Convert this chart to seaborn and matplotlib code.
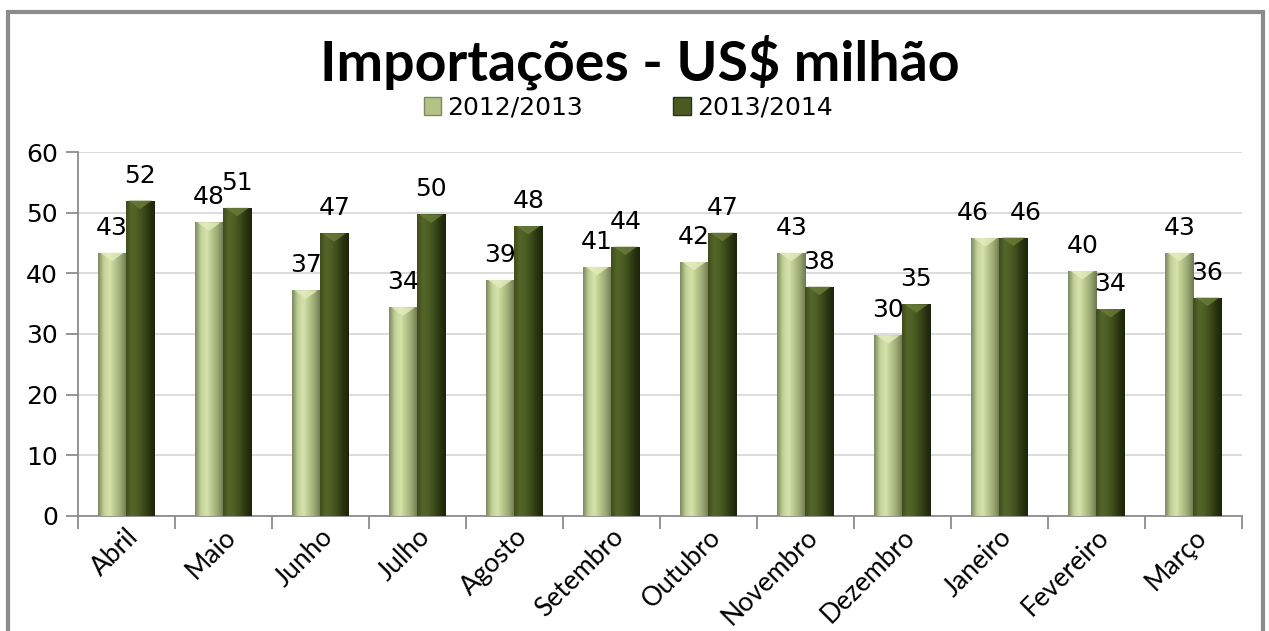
import numpy as np
import pandas as pd
import seaborn as sns
import matplotlib.pyplot as plt
from matplotlib.colors import LinearSegmentedColormap
from matplotlib.patches import Patch, Polygon, Rectangle

# --- data (US$ milhão) ---
months = ['Abril', 'Maio', 'Junho', 'Julho', 'Agosto', 'Setembro',
          'Outubro', 'Novembro', 'Dezembro', 'Janeiro', 'Fevereiro', 'Março']
series_names = ['2012/2013', '2013/2014']
imp_2012_2013 = [43.4, 48.4, 37.2, 34.4, 38.9, 41.1, 41.9, 43.4, 29.8, 45.8, 40.4, 43.4]
imp_2013_2014 = [52.0, 50.8, 46.6, 49.7, 47.8, 44.4, 46.7, 37.8, 34.9, 45.9, 34.1, 36.0]
y_ticks = [0, 10, 20, 30, 40, 50, 60]

df = pd.DataFrame({
    'Mes': months * 2,
    'Safra': [series_names[0]] * len(months) + [series_names[1]] * len(months),
    'Valor': imp_2012_2013 + imp_2013_2014,
})

light = '#b3c285'
dark = '#4a5a22'
light_cmap = LinearSegmentedColormap.from_list(
    'light', ['#7d8860', '#c2d198', '#d6e3aa', '#b6c58a', '#98a671', '#6e7850'])
dark_cmap = LinearSegmentedColormap.from_list(
    'dark', ['#3f4d1b', '#55662a', '#4d5e24', '#3d4b1a', '#2a3510', '#1c240a'])

fig = plt.figure(figsize=(12.69, 6.31), dpi=100)
ax = fig.add_axes([0.0611, 0.1823, 0.9176, 0.5768])

sns.barplot(data=df, x='Mes', y='Valor', hue='Safra', order=months,
            hue_order=series_names, palette=[light, dark], width=0.58,
            legend=False, ax=ax, zorder=3, edgecolor='none')

# --- fake the Excel 3D bevel look: gradient + top triangle ---
grad = np.linspace(0, 1, 64).reshape(1, -1)
n = len(months)
bars = ax.patches[:2 * n]
for i, bar in enumerate(bars):
    cmap = light_cmap if i < n else dark_cmap
    x0, y0 = bar.get_x(), bar.get_y()
    w, h = bar.get_width(), bar.get_height()
    im = ax.imshow(grad, cmap=cmap, extent=[x0, x0 + w, y0, y0 + h],
                   aspect='auto', zorder=3.5, interpolation='bicubic')
    im.set_clip_path(bar)
    tip = '#e4edc0' if i < n else '#6b7d3a'
    tri = Polygon([[x0 + w * 0.08, y0 + h], [x0 + w * 0.92, y0 + h],
                   [x0 + w / 2, y0 + h - 1.4]], closed=True,
                  facecolor=tip, edgecolor='none', alpha=0.8, zorder=3.6)
    ax.add_patch(tri)

    # value label above bar; push apart the pair when both are level
    other = bars[(i + n) % (2 * n)].get_height()
    dx = 0
    if abs(h - other) < 1.5:
        dx = -9 if i < n else 9
    ax.annotate(f'{h:.0f}', (x0 + w / 2, y0 + h), xytext=(dx, 18),
                textcoords='offset points', ha='center', va='center',
                fontsize=18, family='DejaVu Sans', color='black', zorder=5)

ax.set_xlim(-0.5, n - 0.5)
ax.set_ylim(0, 60)
ax.set_yticks(y_ticks)
ax.set_xlabel('')
ax.set_ylabel('')

# gridlines
ax.yaxis.grid(True, color='#d9d9d9', linewidth=1.3, zorder=0)
ax.xaxis.grid(False)
ax.set_axisbelow(True)

for side in ['top', 'right']:
    ax.spines[side].set_visible(False)
for side in ['left', 'bottom']:
    ax.spines[side].set_color('#8c8c8c')
    ax.spines[side].set_linewidth(1.3)

# labels at centers, tick marks at category boundaries
ax.set_xticks(range(n))
ax.set_xticklabels(months, rotation=45, ha='right', rotation_mode='anchor',
                   fontsize=19, family='Lato')
ax.tick_params(axis='x', which='major', length=0, pad=6)
ax.set_xticks(np.arange(-0.5, n, 1), minor=True)
ax.tick_params(axis='x', which='minor', length=9, width=1.3, color='#8c8c8c')
ax.tick_params(axis='y', length=9, width=1.3, color='#8c8c8c', pad=5,
               labelsize=18)

# title and legend
fig.text(0.504, 0.902, 'Importações - US$ milhão', ha='center', va='center',
         fontsize=40, fontweight='bold', family='Lato')
handles = [Patch(facecolor=light, edgecolor='#7d8860'),
           Patch(facecolor=dark, edgecolor='#2a3510')]
fig.legend(handles, series_names, loc='center', bbox_to_anchor=(0.495, 0.829),
           ncol=2, frameon=False, fontsize=18, handlelength=0.7,
           handleheight=0.7, handletextpad=0.25, columnspacing=3.6)

# outer frame of the chart area
fig.patches.append(Rectangle((8 / 1269, -0.05), 1255 / 1269, 1.05 - 12 / 631,
                             transform=fig.transFigure, fill=False,
                             edgecolor='#8c8c8c', linewidth=3))

fig.savefig('out.png', dpi=100)
